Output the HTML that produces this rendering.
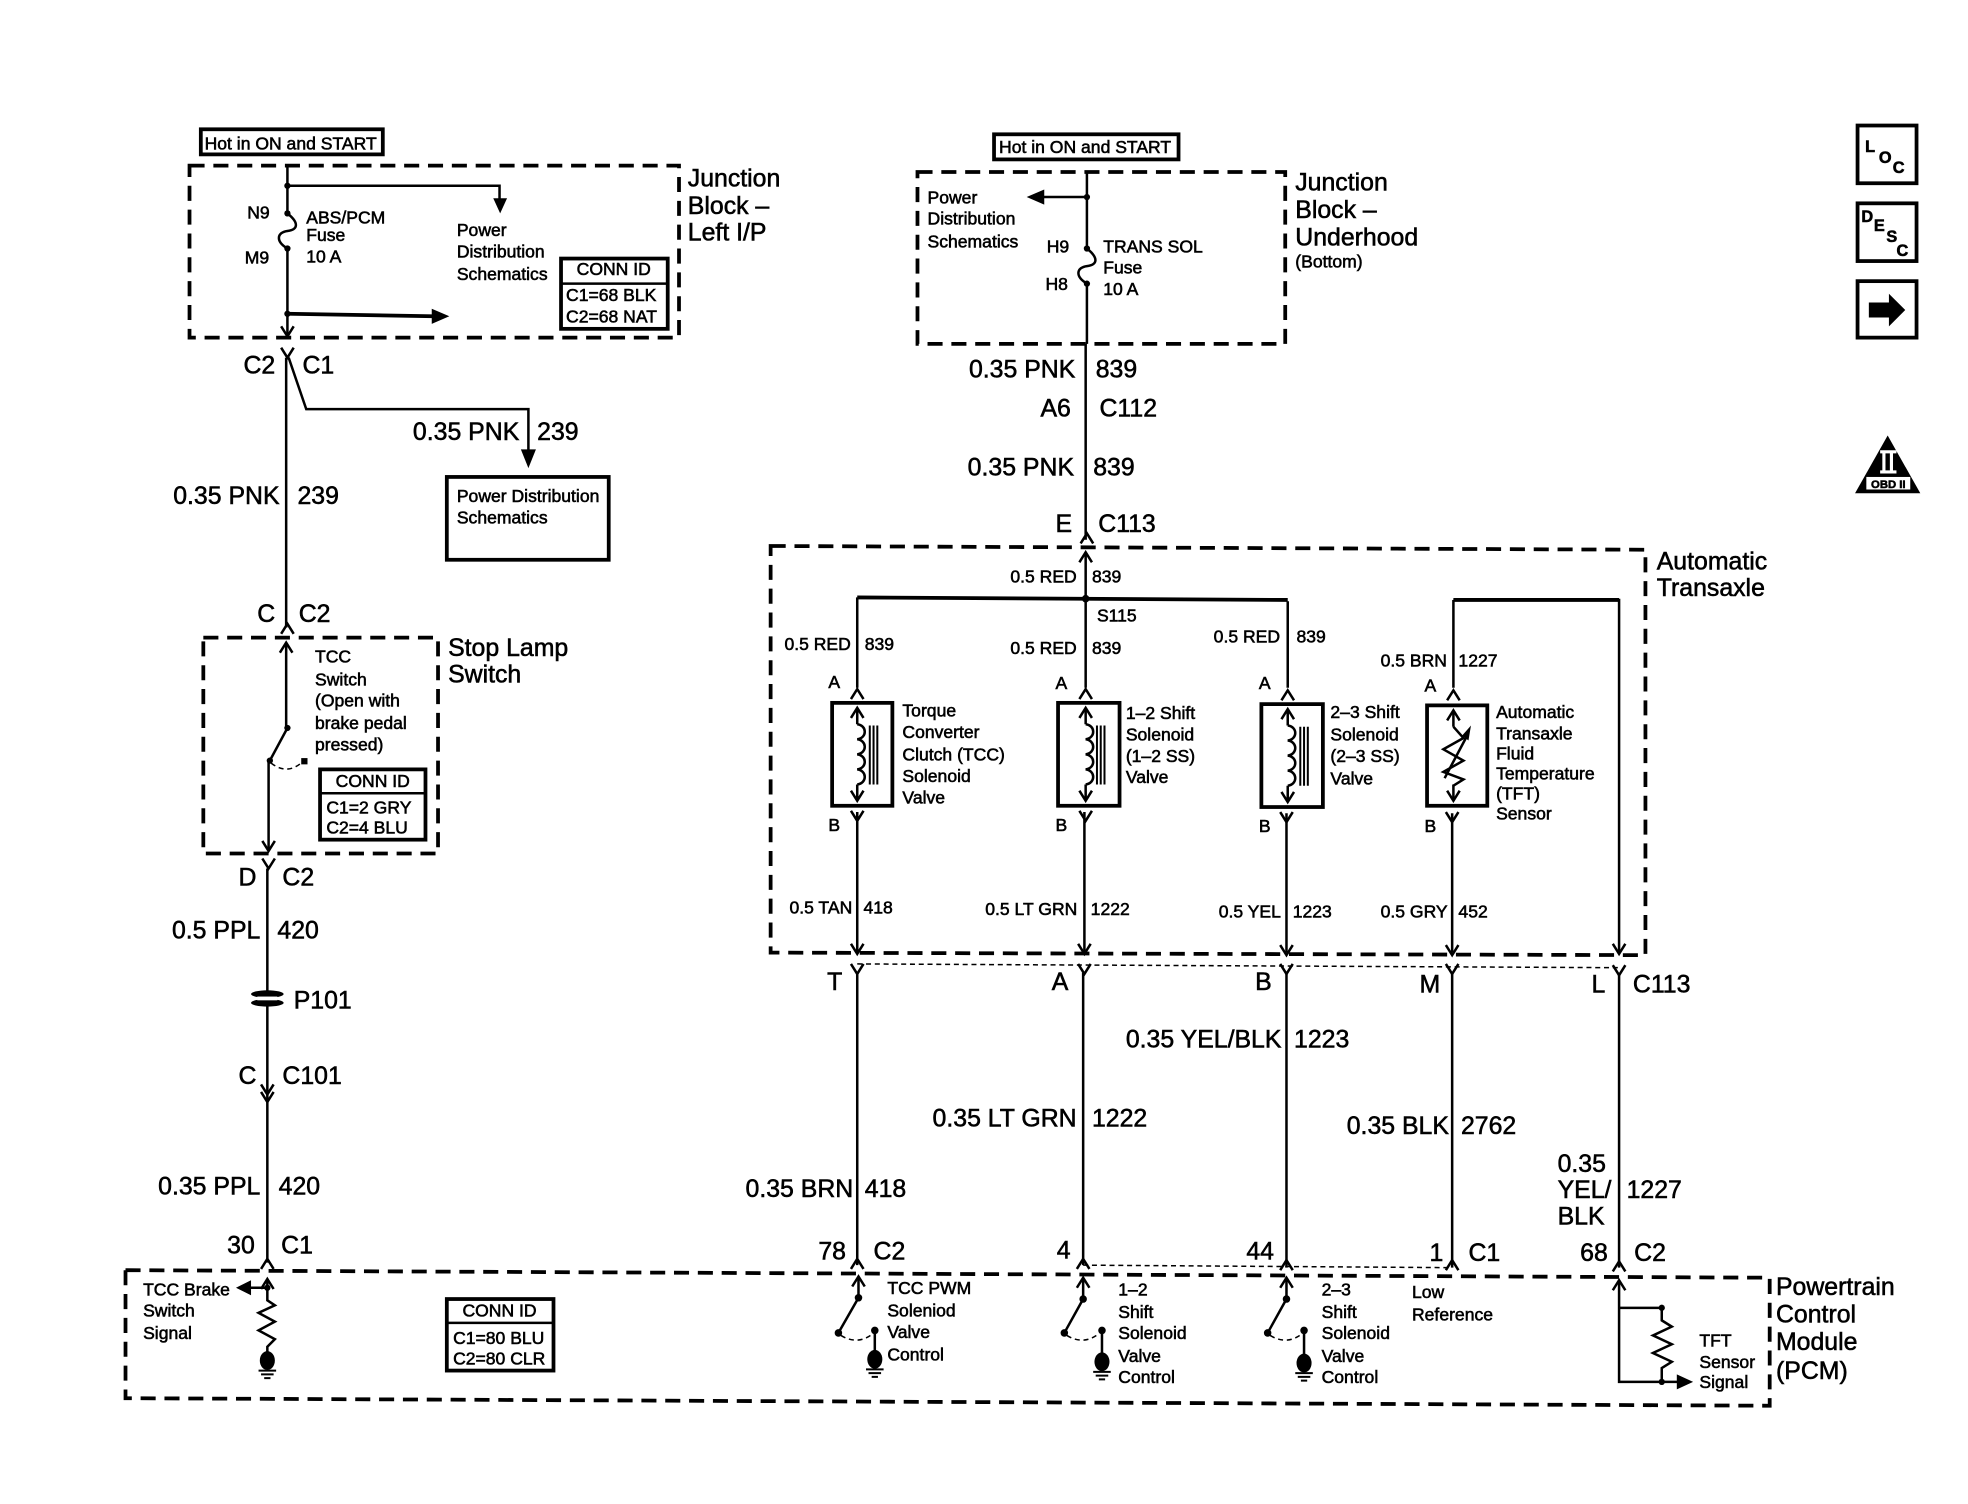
<!DOCTYPE html>
<html><head><meta charset="utf-8"><style>
html,body{margin:0;padding:0;background:#fff}
svg{display:block}
text{font-family:"Liberation Sans",sans-serif;fill:#000;stroke:#000;stroke-width:.45}
.s{font-size:14px}.m{font-size:15px}.l{font-size:19.800px;transform:translateY(.7px)}
.w{fill:none;stroke:#000;stroke-width:2}
.b{fill:none;stroke:#000;stroke-width:3}
.d{fill:none;stroke:#000;stroke-width:3;stroke-dasharray:12 7}
.t{fill:none;stroke:#000;stroke-width:1.2;stroke-dasharray:4 3}
.f{fill:#000;stroke:none}
</style></head><body>
<svg xmlns="http://www.w3.org/2000/svg" width="1968" height="1504" viewBox="0 0 1568 1198.3">
<defs>
<path id="u" d="M-5,8 L0,0 L5,8" fill="none" stroke="#000" stroke-width="2"/>
<path id="v" d="M-5,-8 L0,0 L5,-8" fill="none" stroke="#000" stroke-width="2"/>
<g id="g"><ellipse cx="0" cy="0" rx="6" ry="7.500" fill="#000"/><path d="M-7,8H7M-5,11H5M-2.500,14H2.500" stroke="#000" stroke-width="1.600" fill="none"/></g>
<path id="fuse" d="M0,0 C10,8 8,13 0,14 C-8,15 -10,22 0,28" fill="none" stroke="#000" stroke-width="2"/>
<path id="coil" d="M0,0 C8,1 8,11 0,12 C8,13 8,23 0,24 C8,25 8,35 0,36 C8,37 8,47 0,48" fill="none" stroke="#000" stroke-width="2"/>
</defs>
<rect width="1568" height="1198.3" fill="#fff"/>

<!-- LEFT: junction block -->
<rect x="160" y="103" width="145" height="20" class="b"/>
<text class="s" x="163" y="119">Hot in ON and START</text>
<path class="d" d="M151,132 H541 V269 H151 Z"/>
<path class="w" d="M229,132 V170 M229,198 V268 M229,148 H398 V160"/>
<path class="f" d="M393,158 H404 L398.500,170 Z"/>
<use href="#fuse" x="229" y="170"/>
<circle class="f" cx="229" cy="148" r="2.500"/><circle class="f" cx="229" cy="170" r="2.500"/><circle class="f" cx="229" cy="198" r="2.500"/><circle class="f" cx="229" cy="250" r="2.500"/>
<path class="b" d="M229,250 L345,252"/>
<path class="f" d="M344,246 L358,252 L344,258 Z"/>
<use href="#v" x="229" y="268"/>
<text class="s" x="197" y="174">N9</text><text class="s" x="195" y="210">M9</text>
<text class="s" x="244" y="178">ABS/PCM</text><text class="s" x="244" y="192">Fuse</text><text class="s" x="244" y="209">10 A</text>
<text class="s" x="364" y="188">Power</text><text class="s" x="364" y="205">Distribution</text><text class="s" x="364" y="223">Schematics</text>
<rect x="447" y="206" width="85" height="56" class="b"/><path class="w" d="M447,226 H532"/>
<text class="s" x="489" y="219" text-anchor="middle">CONN ID</text><text class="s" x="451" y="240">C1=68 BLK</text><text class="s" x="451" y="257">C2=68 NAT</text>
<text class="l" x="548" y="148">Junction</text><text class="l" x="548" y="170">Block –</text><text class="l" x="548" y="191">Left I/P</text>
<use href="#v" x="229" y="285"/>
<text class="l" x="194" y="297">C2</text><text class="l" x="241" y="297">C1</text>
<path class="w" d="M228,285 V500 M230,285 L244,326 H421 V362"/>
<path class="f" d="M415,358 H427 L421,373 Z"/>
<text class="l" x="329" y="350">0.35 PNK</text><text class="l" x="428" y="350">239</text>
<rect x="356" y="380" width="129" height="66" class="b"/>
<text class="s" x="364" y="400">Power Distribution</text><text class="s" x="364" y="417">Schematics</text>
<text class="l" x="138" y="401">0.35 PNK</text><text class="l" x="237" y="401">239</text>
<text class="l" x="205" y="495">C</text><text class="l" x="238" y="495">C2</text>
<use href="#u" x="229" y="497"/>

<!-- stop lamp -->
<path class="d" d="M162,508 H349 V680 H162 Z"/>
<path class="w" d="M228,512 V578 L229,580 L215,606 M214,606 V678"/>
<use href="#u" x="228" y="512"/><use href="#v" x="214" y="678"/>
<circle class="f" cx="229" cy="580" r="2.500"/><circle class="f" cx="215" cy="606" r="2.500"/><rect class="f" x="240" y="604" width="5" height="5"/>
<path class="t" d="M216,608 Q229,618 241,607"/>
<text class="s" x="251" y="528">TCC</text><text class="s" x="251" y="546">Switch</text><text class="s" x="251" y="563">(Open with</text><text class="s" x="251" y="581">brake pedal</text><text class="s" x="251" y="598">pressed)</text>
<rect x="255" y="613" width="84" height="56" class="b"/><path class="w" d="M255,632 H339"/>
<text class="s" x="297" y="627" text-anchor="middle">CONN ID</text><text class="s" x="260" y="648">C1=2 GRY</text><text class="s" x="260" y="664">C2=4 BLU</text>
<text class="l" x="357" y="522">Stop Lamp</text><text class="l" x="357" y="543">Switch</text>
<use href="#v" x="214" y="692"/>
<text class="l" x="190" y="705">D</text><text class="l" x="225" y="705">C2</text>
<path class="w" d="M213,692 V1006"/>
<text class="l" x="137" y="747">0.5 PPL</text><text class="l" x="221" y="747">420</text>
<ellipse cx="213" cy="792" rx="13" ry="3" class="f"/><ellipse cx="213" cy="799" rx="13" ry="3" class="f"/><rect x="205" y="794" width="16" height="3" fill="#fff"/>
<text class="l" x="234" y="803">P101</text>
<text class="l" x="190" y="863">C</text><text class="l" x="225" y="863">C101</text>
<use href="#v" x="213" y="872"/><use href="#v" x="213" y="878"/>
<text class="l" x="126" y="951">0.35 PPL</text><text class="l" x="222" y="951">420</text>
<text class="l" x="181" y="998">30</text><text class="l" x="224" y="998">C1</text>
<use href="#u" x="213" y="1003"/>

<!-- PCM -->
<path class="d" d="M100,1012 L1410,1018 V1120 L100,1114 Z"/>
<use href="#u" x="213" y="1019"/>
<path class="w" d="M213,1019 V1036 L219,1040 L206,1046 L219,1053 L206,1060 L219,1067 L213,1073 V1078"/>
<circle class="f" cx="213" cy="1026" r="2.500"/>
<path class="w" d="M213,1026 H198"/><path class="f" d="M188,1026 L200,1020 V1032 Z"/>
<use href="#g" x="213" y="1084"/>
<text class="s" x="114" y="1032">TCC Brake</text><text class="s" x="114" y="1049">Switch</text><text class="s" x="114" y="1067">Signal</text>
<rect x="356" y="1035" width="85" height="57" class="b"/><path class="w" d="M356,1054 H441"/>
<text class="s" x="398" y="1049" text-anchor="middle">CONN ID</text><text class="s" x="361" y="1071">C1=80 BLU</text><text class="s" x="361" y="1087">C2=80 CLR</text>

<!-- RIGHT top -->
<rect x="792" y="107" width="147" height="20" class="b"/>
<text class="s" x="796" y="122">Hot in ON and START</text>
<path class="d" d="M731,137 H1024 V274 H731 Z"/>
<path class="w" d="M866,137 V198 M866,226 V274 M865,274 V430 M866,157 H830"/>
<path class="f" d="M818,157 L832,151 V163 Z"/>
<use href="#fuse" x="866" y="198"/>
<circle class="f" cx="866" cy="157" r="2.500"/><circle class="f" cx="866" cy="198" r="2.500"/><circle class="f" cx="866" cy="226" r="2.500"/>
<text class="s" x="739" y="162">Power</text><text class="s" x="739" y="179">Distribution</text><text class="s" x="739" y="197">Schematics</text>
<text class="s" x="834" y="201">H9</text><text class="s" x="833" y="231">H8</text>
<text class="s" x="879" y="201">TRANS SOL</text><text class="s" x="879" y="218">Fuse</text><text class="s" x="879" y="235">10 A</text>
<text class="l" x="1032" y="151">Junction</text><text class="l" x="1032" y="173">Block –</text><text class="l" x="1032" y="195">Underhood</text><text class="s" x="1032" y="213">(Bottom)</text>
<text class="l" x="772" y="300">0.35 PNK</text><text class="l" x="873" y="300">839</text>
<text class="l" x="829" y="331">A6</text><text class="l" x="876" y="331">C112</text>
<text class="l" x="771" y="378">0.35 PNK</text><text class="l" x="871" y="378">839</text>
<text class="l" x="841" y="423">E</text><text class="l" x="875" y="423">C113</text>
<use href="#u" x="866" y="425"/>

<!-- transaxle -->
<path class="d" d="M614,435 L1311,438 V761 L614,759 Z"/>
<use href="#u" x="865" y="440"/>
<path class="w" d="M865,440 V548 M1026,479 V548 M683,476 V548 M1158,478 V548 M1158,478 H1290 V760"/>
<path class="b" d="M683,476 L1026,478 M1158,478 H1290"/>
<circle class="f" cx="865" cy="477" r="3"/>
<text class="s" x="805" y="464">0.5 RED</text><text class="s" x="870" y="464">839</text><text class="s" x="874" y="495">S115</text>
<text class="s" x="625" y="518">0.5 RED</text><text class="s" x="689" y="518">839</text><text class="s" x="660" y="548">A</text>
<text class="s" x="805" y="521">0.5 RED</text><text class="s" x="870" y="521">839</text><text class="s" x="841" y="549">A</text>
<text class="s" x="967" y="512">0.5 RED</text><text class="s" x="1033" y="512">839</text><text class="s" x="1003" y="549">A</text>
<text class="s" x="1100" y="531">0.5 BRN</text><text class="s" x="1162" y="531">1227</text><text class="s" x="1135" y="551">A</text>
<use href="#u" x="683" y="549"/><use href="#u" x="865" y="549"/><use href="#u" x="1026" y="550"/><use href="#u" x="1158" y="550"/>

<rect x="663" y="560" width="48" height="82" class="b"/>
<rect x="843" y="560" width="49" height="82" class="b"/>
<rect x="1005" y="561" width="49" height="82" class="b"/>
<rect x="1137" y="562" width="48" height="80" class="b"/>
<g>
<path class="w" d="M683,565 V577 M683,625 V638 M865,565 V577 M865,625 V638 M1026,566 V578 M1026,626 V639 M1158,567 V579 M1158,625 V638"/>
<use href="#u" x="683" y="564"/><use href="#v" x="683" y="638"/><use href="#u" x="865" y="564"/><use href="#v" x="865" y="638"/><use href="#u" x="1026" y="565"/><use href="#v" x="1026" y="639"/><use href="#u" x="1158" y="566"/><use href="#v" x="1158" y="638"/>
<use href="#coil" x="683" y="577"/><use href="#coil" x="865" y="577"/><use href="#coil" x="1026" y="578"/>
<path d="M693,578 V625 M696,578 V625 M699,578 V625 M874,578 V625 M877,578 V625 M880,578 V625 M1036,579 V626 M1039,579 V626 M1042,579 V626" stroke="#000" stroke-width="1.600" fill="none"/>
<path class="w" d="M1158,579 L1166,588 L1150,597 L1166,606 L1150,615 L1166,621 L1158,626"/>
<path class="w" d="M1151,620 L1169,586"/><path class="f" d="M1172,578 L1165,586 L1170,590 Z"/>
</g>
<text class="s" x="719" y="571">Torque</text><text class="s" x="719" y="588">Converter</text><text class="s" x="719" y="606">Clutch (TCC)</text><text class="s" x="719" y="623">Solenoid</text><text class="s" x="719" y="640">Valve</text>
<text class="s" x="897" y="573">1–2 Shift</text><text class="s" x="897" y="590">Solenoid</text><text class="s" x="897" y="607">(1–2 SS)</text><text class="s" x="897" y="624">Valve</text>
<text class="s" x="1060" y="572">2–3 Shift</text><text class="s" x="1060" y="590">Solenoid</text><text class="s" x="1060" y="607">(2–3 SS)</text><text class="s" x="1060" y="625">Valve</text>
<text class="s" x="1192" y="572">Automatic</text><text class="s" x="1192" y="589">Transaxle</text><text class="s" x="1192" y="605">Fluid</text><text class="s" x="1192" y="621">Temperature</text><text class="s" x="1192" y="637">(TFT)</text><text class="s" x="1192" y="653">Sensor</text>
<text class="s" x="660" y="662">B</text><text class="s" x="841" y="662">B</text><text class="s" x="1003" y="663">B</text><text class="s" x="1135" y="663">B</text>
<use href="#v" x="683" y="654"/><use href="#v" x="865" y="654"/><use href="#v" x="1025" y="655"/><use href="#v" x="1157" y="655"/>
<path class="w" d="M683,647 V759 M864,647 V759 M1025,648 V759 M1157,648 V759"/>
<use href="#v" x="683" y="760"/><use href="#v" x="864" y="760"/><use href="#v" x="1025" y="761"/><use href="#v" x="1157" y="761"/><use href="#v" x="1290" y="760"/>
<text class="s" x="629" y="728">0.5 TAN</text><text class="s" x="688" y="728">418</text>
<text class="s" x="785" y="729">0.5 LT GRN</text><text class="s" x="869" y="729">1222</text>
<text class="s" x="971" y="731">0.5 YEL</text><text class="s" x="1030" y="731">1223</text>
<text class="s" x="1100" y="731">0.5 GRY</text><text class="s" x="1162" y="731">452</text>
<text class="l" x="1320" y="453">Automatic</text><text class="l" x="1320" y="474">Transaxle</text>

<!-- lower harness -->
<path class="t" d="M683,768 L1290,771"/>
<use href="#v" x="683" y="776"/><use href="#v" x="864" y="776"/><use href="#v" x="1025" y="776"/><use href="#v" x="1157" y="776"/><use href="#v" x="1290" y="777"/>
<path class="w" d="M683,775 V1008 M863,775 V1008 M1025,775 V1010 M1157,775 V1010 M1290,776 V1010"/>
<text class="l" x="659" y="788">T</text><text class="l" x="838" y="788">A</text><text class="l" x="1000" y="788">B</text><text class="l" x="1131" y="790">M</text><text class="l" x="1268" y="790">L</text><text class="l" x="1301" y="790">C113</text>
<text class="l" x="594" y="953">0.35 BRN</text><text class="l" x="689" y="953">418</text>
<text class="l" x="743" y="897">0.35 LT GRN</text><text class="l" x="870" y="897">1222</text>
<text class="l" x="897" y="834">0.35 YEL/BLK</text><text class="l" x="1031" y="834">1223</text>
<text class="l" x="1073" y="903">0.35 BLK</text><text class="l" x="1164" y="903">2762</text>
<text class="l" x="1241" y="933">0.35</text><text class="l" x="1241" y="954">YEL/</text><text class="l" x="1241" y="975">BLK</text><text class="l" x="1296" y="954">1227</text>
<text class="l" x="652" y="1003">78</text><text class="l" x="696" y="1003">C2</text><text class="l" x="842" y="1002">4</text><text class="l" x="993" y="1003">44</text><text class="l" x="1139" y="1004">1</text><text class="l" x="1170" y="1004">C1</text><text class="l" x="1259" y="1004">68</text><text class="l" x="1302" y="1004">C2</text>
<path class="t" d="M863,1008 L1157,1010"/>
<use href="#u" x="683" y="1003"/><use href="#u" x="863" y="1003"/><use href="#u" x="1025" y="1004"/><use href="#u" x="1157" y="1004"/><use href="#u" x="1290" y="1005"/>

<!-- PCM switches -->
<use href="#u" x="684" y="1017"/><path class="w" d="M684,1017 V1034 L668,1062 M697,1060 V1078"/><circle class="f" cx="684" cy="1034" r="3"/><circle class="f" cx="668" cy="1062" r="3"/><circle class="f" cx="697" cy="1060" r="3"/><path class="t" d="M670,1064 Q683,1072 695,1063"/><use href="#g" x="697" y="1083"/>
<use href="#u" x="863" y="1018"/><path class="w" d="M863,1018 V1035 L848,1062 M878,1060 V1080"/><circle class="f" cx="863" cy="1035" r="3"/><circle class="f" cx="848" cy="1062" r="3"/><circle class="f" cx="878" cy="1060" r="3"/><path class="t" d="M850,1064 Q863,1072 875,1063"/><use href="#g" x="878" y="1085"/>
<use href="#u" x="1025" y="1018"/><path class="w" d="M1025,1018 V1035 L1010,1062 M1039,1060 V1081"/><circle class="f" cx="1025" cy="1035" r="3"/><circle class="f" cx="1010" cy="1062" r="3"/><circle class="f" cx="1039" cy="1060" r="3"/><path class="t" d="M1012,1064 Q1025,1072 1037,1063"/><use href="#g" x="1039" y="1086"/>
<text class="s" x="707" y="1031">TCC PWM</text><text class="s" x="707" y="1049">Soleniod</text><text class="s" x="707" y="1066">Valve</text><text class="s" x="707" y="1084">Control</text>
<text class="s" x="891" y="1032">1–2</text><text class="s" x="891" y="1050">Shift</text><text class="s" x="891" y="1067">Solenoid</text><text class="s" x="891" y="1085">Valve</text><text class="s" x="891" y="1102">Control</text>
<text class="s" x="1053" y="1032">2–3</text><text class="s" x="1053" y="1050">Shift</text><text class="s" x="1053" y="1067">Solenoid</text><text class="s" x="1053" y="1085">Valve</text><text class="s" x="1053" y="1102">Control</text>
<text class="s" x="1125" y="1034">Low</text><text class="s" x="1125" y="1052">Reference</text>
<use href="#u" x="1290" y="1020"/>
<path class="w" d="M1290,1020 V1101 H1338 M1290,1042 H1324 V1052 L1332,1057 L1317,1064 L1332,1071 L1317,1078 L1332,1085 L1324,1090 V1101"/>
<circle class="f" cx="1324" cy="1042" r="2.500"/><circle class="f" cx="1324" cy="1101" r="2.500"/>
<path class="f" d="M1336,1095 L1349,1101 L1336,1107 Z"/>
<text class="s" x="1354" y="1073">TFT</text><text class="s" x="1354" y="1090">Sensor</text><text class="s" x="1354" y="1106">Signal</text>
<text class="l" x="1415" y="1031">Powertrain</text><text class="l" x="1415" y="1053">Control</text><text class="l" x="1415" y="1075">Module</text><text class="l" x="1415" y="1098">(PCM)</text>

<!-- icons -->
<rect x="1480" y="100" width="47" height="46" class="b"/>
<text font-size="13" x="1486" y="121" style="font-weight:bold">L</text><text font-size="13" x="1497" y="130" style="font-weight:bold">O</text><text font-size="13" x="1508" y="138" style="font-weight:bold">C</text>
<rect x="1480" y="162" width="47" height="46" class="b"/>
<text font-size="13" x="1483" y="177" style="font-weight:bold">D</text><text font-size="13" x="1493" y="184" style="font-weight:bold">E</text><text font-size="13" x="1503" y="193" style="font-weight:bold">S</text><text font-size="13" x="1511" y="204" style="font-weight:bold">C</text>
<rect x="1480" y="224" width="47" height="45" class="b"/>
<path class="f" d="M1489,241 H1505 V234 L1518,247 L1505,260 V253 H1489 Z"/>
<path class="f" d="M1504,347 L1530,393 H1478 Z"/>
<rect x="1487" y="380" width="35" height="10" fill="#fff"/>
<text font-size="9" x="1504.500" y="389" text-anchor="middle" style="font-weight:bold">OBD II</text>
<path d="M1498,360 H1511 M1498,376 H1511 M1501,360 V376 M1507,360 V376" stroke="#fff" stroke-width="2.500" fill="none"/>
</svg>
</body></html>
